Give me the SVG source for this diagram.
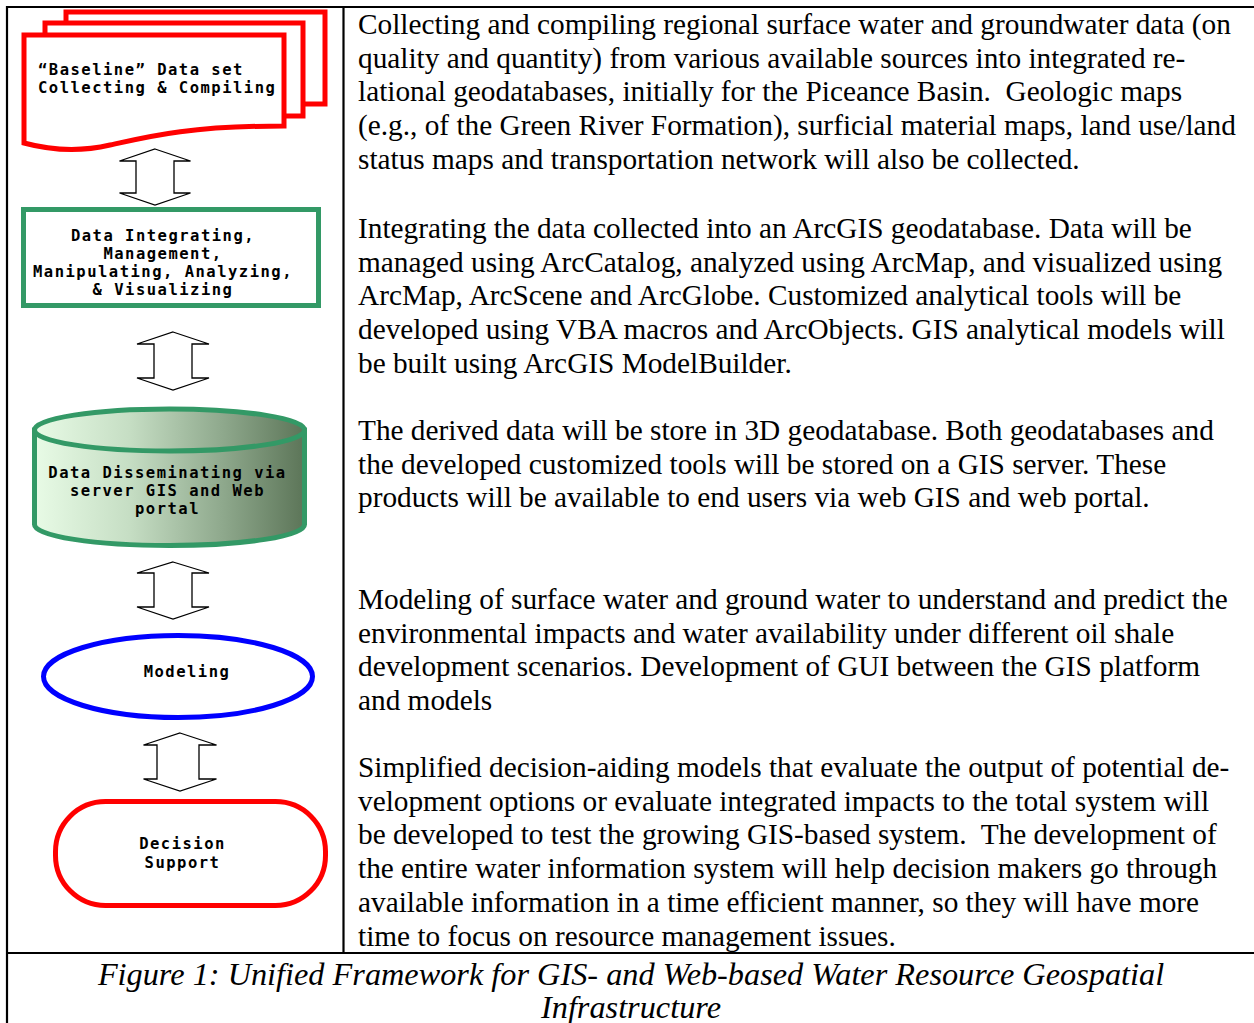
<svg xmlns="http://www.w3.org/2000/svg" width="1254" height="1023" viewBox="0 0 1254 1023">
<defs>
<linearGradient id="cylGrad" x1="0" y1="0" x2="1" y2="0">
<stop offset="0" stop-color="#e8fbe6"/>
<stop offset="0.35" stop-color="#c6dec4"/>
<stop offset="0.7" stop-color="#8ea88c"/>
<stop offset="1" stop-color="#5c7558"/>
</linearGradient>
<style>
.frame{stroke:#000;stroke-width:2.2;fill:none}
.body{font-family:"Liberation Serif","Times New Roman",serif;font-size:29.3px;fill:#000;white-space:pre}
.cap{font-family:"Liberation Serif","Times New Roman",serif;font-size:32.3px;font-style:italic;fill:#000;text-anchor:middle}
.lbl{font-family:"DejaVu Sans Mono","Liberation Mono",monospace;font-size:15.5px;font-weight:bold;letter-spacing:1.5px;fill:#000;text-anchor:middle}
.red{stroke:#ff0000;stroke-width:5;fill:#fff}
.arrow{stroke:#000;stroke-width:1.3;fill:#fff;stroke-linejoin:miter}
</style>
</defs>
<rect width="1254" height="1023" fill="#fff"/>
<g id="table">
<line class="frame" x1="7" y1="7" x2="1254" y2="7"/>
<line class="frame" x1="7" y1="6" x2="7" y2="1023"/>
<line class="frame" x1="343.5" y1="7" x2="343.5" y2="953"/>
<line class="frame" x1="7" y1="953" x2="1254" y2="953"/>
</g>
<g id="node-baseline">
<rect class="red" x="66" y="12" width="259" height="92"/>
<rect class="red" x="45" y="23" width="258" height="93"/>
<path class="red" d="M24,35 H284 V126 C190,126 150,136 110,145 C80,152 50,150 24,143 Z"/>
<text class="lbl" x="38" y="75" style="text-anchor:start">“Baseline” Data set</text>
<text class="lbl" x="38" y="93" style="text-anchor:start">Collecting &amp; Compiling</text>
</g>
<g id="node-integrating">
<rect x="23.5" y="209.5" width="295" height="96" fill="#fff" stroke="#339966" stroke-width="5"/>
<text class="lbl" x="163" y="241">Data Integrating,</text>
<text class="lbl" x="163" y="259">Management,</text>
<text class="lbl" x="163" y="277">Manipulating, Analyzing,</text>
<text class="lbl" x="163" y="295">&amp; Visualizing</text>
</g>
<g id="node-disseminating">
<path d="M34.5,430 V524.5 A135,21 0 0 0 304.5,524.5 V430 Z" fill="url(#cylGrad)" stroke="#339966" stroke-width="5"/>
<ellipse cx="169.5" cy="430" rx="135" ry="21" fill="url(#cylGrad)" stroke="#339966" stroke-width="5"/>
<text class="lbl" x="167.5" y="478">Data Disseminating via</text>
<text class="lbl" x="167.5" y="496">server GIS and Web</text>
<text class="lbl" x="167.5" y="514">portal</text>
</g>
<g id="node-modeling">
<ellipse cx="178" cy="676.5" rx="134.5" ry="41" fill="#fff" stroke="#0000ff" stroke-width="5"/>
<text class="lbl" x="187" y="677">Modeling</text>
</g>
<g id="node-decision">
<rect class="red" x="55.5" y="801.5" width="270" height="104" rx="50" ry="50"/>
<text class="lbl" x="182.5" y="849">Decision</text>
<text class="lbl" x="182.5" y="868">Support</text>
</g>
<g id="connectors">
<path class="arrow" d="M155,149 L190.5,161 L174,161 L174,193 L190.5,193 L155,205 L119.5,193 L136,193 L136,161 L119.5,161 Z"/>
<path class="arrow" d="M173,332 L209,344 L192,344 L192,378 L209,378 L173,390 L137,378 L154,378 L154,344 L137,344 Z"/>
<path class="arrow" d="M173,562 L209,573 L192,573 L192,607 L209,607 L173,619 L137,607 L154,607 L154,573 L137,573 Z"/>
<path class="arrow" d="M180,733 L216.5,745 L199,745 L199,779 L216.5,779 L180,791 L143.5,779 L157,779 L157,745 L143.5,745 Z"/>
</g>
<g id="descriptions">
<text class="body" x="358" y="34">Collecting and compiling regional surface water and groundwater data (on</text>
<text class="body" x="358" y="67.7">quality and quantity) from various available sources into integrated re-</text>
<text class="body" x="358" y="101.4">lational geodatabases, initially for the Piceance Basin.  Geologic maps</text>
<text class="body" x="358" y="135.1">(e.g., of the Green River Formation), surficial material maps, land use/land</text>
<text class="body" x="358" y="168.8">status maps and transportation network will also be collected.</text>
<text class="body" x="358" y="238">Integrating the data collected into an ArcGIS geodatabase. Data will be</text>
<text class="body" x="358" y="271.7">managed using ArcCatalog, analyzed using ArcMap, and visualized using</text>
<text class="body" x="358" y="305.4">ArcMap, ArcScene and ArcGlobe. Customized analytical tools will be</text>
<text class="body" x="358" y="339.1">developed using VBA macros and ArcObjects. GIS analytical models will</text>
<text class="body" x="358" y="372.8">be built using ArcGIS ModelBuilder.</text>
<text class="body" x="358" y="440">The derived data will be store in 3D geodatabase. Both geodatabases and</text>
<text class="body" x="358" y="473.7">the developed customized tools will be stored on a GIS server. These</text>
<text class="body" x="358" y="507.4">products will be available to end users via web GIS and web portal.</text>
<text class="body" x="358" y="609">Modeling of surface water and ground water to understand and predict the</text>
<text class="body" x="358" y="642.7">environmental impacts and water availability under different oil shale</text>
<text class="body" x="358" y="676.4">development scenarios. Development of GUI between the GIS platform</text>
<text class="body" x="358" y="710.1">and models</text>
<text class="body" x="358" y="777">Simplified decision-aiding models that evaluate the output of potential de-</text>
<text class="body" x="358" y="810.7">velopment options or evaluate integrated impacts to the total system will</text>
<text class="body" x="358" y="844.4">be developed to test the growing GIS-based system.  The development of</text>
<text class="body" x="358" y="878.1">the entire water information system will help decision makers go through</text>
<text class="body" x="358" y="911.8">available information in a time efficient manner, so they will have more</text>
<text class="body" x="358" y="945.5">time to focus on resource management issues.</text>
</g>
<g id="caption">
<text class="cap" x="631" y="985">Figure 1: Unified Framework for GIS- and Web-based Water Resource Geospatial</text>
<text class="cap" x="631" y="1018">Infrastructure</text>
</g>
</svg>
